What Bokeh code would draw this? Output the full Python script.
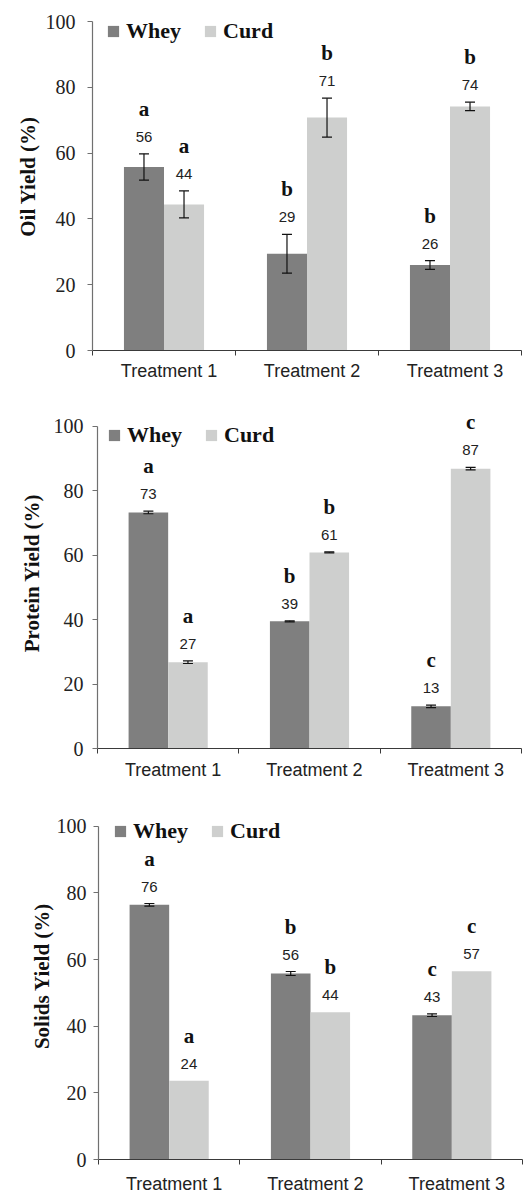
from bokeh.plotting import figure
from bokeh.models import (ColumnDataSource, FixedTicker, Whisker, TeeHead, LabelSet,
                          Legend, LegendItem)
from bokeh.core.properties import value
from bokeh.layouts import column, row
from bokeh.embed import file_html
from bokeh.resources import INLINE

categories = ["Treatment 1", "Treatment 2", "Treatment 3"]
series = ["Whey", "Curd"]

oil_whey = [55.8, 29.4, 26.0]
oil_curd = [44.4, 70.8, 74.2]
oil_whey_err = [4.0, 5.9, 1.35]
oil_curd_err = [4.1, 5.9, 1.3]
oil_whey_lbl = ["56", "29", "26"]
oil_curd_lbl = ["44", "71", "74"]
oil_whey_sig = ["a", "b", "b"]
oil_curd_sig = ["a", "b", "b"]

prot_whey = [73.3, 39.5, 13.1]
prot_curd = [26.8, 60.9, 86.9]
prot_whey_err = [0.4, 0.15, 0.4]
prot_curd_err = [0.4, 0.15, 0.4]
prot_whey_lbl = ["73", "39", "13"]
prot_curd_lbl = ["27", "61", "87"]
prot_whey_sig = ["a", "b", "c"]
prot_curd_sig = ["a", "b", "c"]

sol_whey = [76.4, 55.8, 43.3]
sol_curd = [23.6, 44.2, 56.5]
sol_whey_err = [0.4, 0.6, 0.4]
sol_curd_err = [0.0, 0.0, 0.0]
sol_whey_lbl = ["76", "56", "43"]
sol_curd_lbl = ["24", "44", "57"]
sol_whey_sig = ["a", "b", "c"]
sol_curd_sig = ["a", "b", "c"]

y_ticks = [0, 20, 40, 60, 80, 100]

WHEY_COLOR = "#7f7f7f"
CURD_COLOR = "#cecfce"
YAXIS_COLOR = "#707070"
XAXIS_COLOR = "#3a3a3a"
SERIF = "Liberation Serif"
SANS = "Liberation Sans"


def make_panel(ylabel, whey, curd, whey_err, curd_err, whey_lbl, curd_lbl,
               whey_sig, curd_sig, height, y_end, b_left, b_right, b_top, b_bottom,
               ylabel_standoff, ytick_standoff, x_standoff, legend_x, legend_dy):
    p = figure(width=532, height=height, x_range=(0, 3), y_range=(0, y_end),
               output_backend="svg", toolbar_location=None,
               min_border_left=b_left, min_border_right=b_right,
               min_border_top=b_top, min_border_bottom=b_bottom)
    p.outline_line_color = None
    p.xgrid.grid_line_color = None
    p.ygrid.grid_line_color = None
    p.background_fill_color = "white"
    p.border_fill_color = "white"

    n = len(categories)
    whey_x = [i + 0.36 for i in range(n)]
    curd_x = [i + 0.64 for i in range(n)]
    bw = 0.28

    rw = p.vbar(x=whey_x, top=whey, width=bw, bottom=0, fill_color=WHEY_COLOR,
                line_color=None)
    rc = p.vbar(x=curd_x, top=curd, width=bw, bottom=0, fill_color=CURD_COLOR,
                line_color=None)

    # error bars
    ex, eu, el = [], [], []
    for xs, vals, errs in ((whey_x, whey, whey_err), (curd_x, curd, curd_err)):
        for xx, v, e in zip(xs, vals, errs):
            if e > 0:
                ex.append(xx)
                eu.append(v + e)
                el.append(v - e)
    esrc = ColumnDataSource(dict(x=ex, upper=eu, lower=el))
    wk = Whisker(source=esrc, base="x", upper="upper", lower="lower",
                 dimension="height", line_color="#111111", line_width=1.2,
                 level="overlay",
                 upper_head=TeeHead(size=10, line_color="#111111", line_width=1.2),
                 lower_head=TeeHead(size=10, line_color="#111111", line_width=1.2))
    p.add_layout(wk)

    # labels
    lx = whey_x + curd_x
    ltop = [v + e for v, e in zip(whey, whey_err)] + [v + e for v, e in zip(curd, curd_err)]
    lsrc = ColumnDataSource(dict(x=lx, y=ltop, num=whey_lbl + curd_lbl,
                                 sig=whey_sig + curd_sig))
    p.add_layout(LabelSet(x="x", y="y", text="num", source=lsrc, y_offset=17,
                          text_align="center", text_baseline="middle",
                          text_font=value(SANS), text_font_size=value("15px"),
                          text_color="#222222"))
    p.add_layout(LabelSet(x="x", y="y", text="sig", source=lsrc, y_offset=45,
                          text_align="center", text_baseline="middle",
                          text_font=value(SERIF), text_font_size=value("21px"),
                          text_font_style="bold", text_color="#111111"))

    # axes
    xa = p.xaxis[0]
    label_pos = [i + 0.535 for i in range(n)]
    xa.ticker = FixedTicker(ticks=label_pos, minor_ticks=[0, 1, 2, 3])
    xa.major_label_overrides = {lp: c for lp, c in zip(label_pos, categories)}
    xa.major_tick_line_color = None
    xa.major_tick_out = 0
    xa.major_tick_in = 0
    xa.minor_tick_out = 5
    xa.minor_tick_in = 0
    xa.minor_tick_line_color = XAXIS_COLOR
    xa.axis_line_color = XAXIS_COLOR
    xa.axis_line_width = 1.2
    xa.major_label_text_font = SANS
    xa.major_label_text_font_size = "18px"
    xa.major_label_text_color = "#222222"
    xa.major_label_standoff = x_standoff

    ya = p.yaxis[0]
    ya.ticker = FixedTicker(ticks=y_ticks, minor_ticks=[])
    ya.bounds = (0, 100)
    ya.major_tick_out = 5
    ya.major_tick_in = 0
    ya.major_tick_line_color = YAXIS_COLOR
    ya.axis_line_color = YAXIS_COLOR
    ya.axis_line_width = 1.2
    ya.major_label_text_font = SERIF
    ya.major_label_text_font_size = "20px"
    ya.major_label_text_color = "#222222"
    ya.major_label_standoff = ytick_standoff
    ya.axis_label = ylabel
    ya.axis_label_text_font = SERIF
    ya.axis_label_text_font_size = "21px"
    ya.axis_label_text_font_style = "bold"
    ya.axis_label_text_color = "#111111"
    ya.axis_label_standoff = ylabel_standoff

    frame_h = height - b_top - b_bottom
    leg = Legend(items=[LegendItem(label=series[0], renderers=[rw]),
                        LegendItem(label=series[1], renderers=[rc])],
                 orientation="horizontal", location=(legend_x, frame_h - legend_dy),
                 glyph_width=14, glyph_height=14, label_standoff=6, spacing=22,
                 padding=0, margin=0, border_line_color=None,
                 background_fill_alpha=0,
                 label_text_font=SERIF, label_text_font_size="22px",
                 label_text_font_style="bold", label_text_color="#111111")
    p.add_layout(leg, "center")
    return p


p1 = make_panel("Oil Yield (%)", oil_whey, oil_curd, oil_whey_err, oil_curd_err,
                oil_whey_lbl, oil_curd_lbl, oil_whey_sig, oil_curd_sig,
                height=395, y_end=105.8, b_left=92, b_right=11, b_top=2, b_bottom=45,
                ylabel_standoff=3, ytick_standoff=12, x_standoff=5,
                legend_x=14, legend_dy=42)
p2 = make_panel("Protein Yield (%)", prot_whey, prot_curd, prot_whey_err, prot_curd_err,
                prot_whey_lbl, prot_curd_lbl, prot_whey_sig, prot_curd_sig,
                height=395, y_end=109.0, b_left=97, b_right=11, b_top=2, b_bottom=42,
                ylabel_standoff=7, ytick_standoff=9, x_standoff=6,
                legend_x=10, legend_dy=51)
p3 = make_panel("Solids Yield (%)", sol_whey, sol_curd, sol_whey_err, sol_curd_err,
                sol_whey_lbl, sol_curd_lbl, sol_whey_sig, sol_curd_sig,
                height=406, y_end=110.1, b_left=98, b_right=10, b_top=2, b_bottom=36,
                ylabel_standoff=0, ytick_standoff=7, x_standoff=9,
                legend_x=15, legend_dy=53)

layout = column(row(p1), row(p2), row(p3), spacing=0)
open("out.html", "w").write(file_html(layout, INLINE))
